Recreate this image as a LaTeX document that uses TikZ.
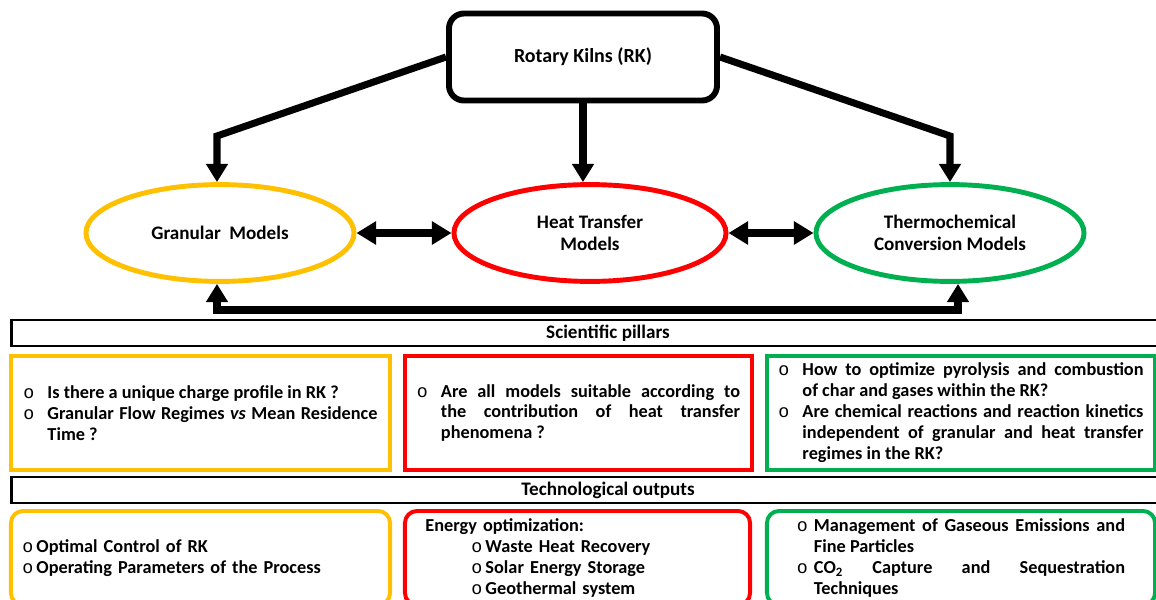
\documentclass[tikz,border=0pt]{standalone}
\usepackage{xcolor}
\usepackage{fontspec}
\setmainfont{Carlito}
\newfontfamily\bulfont{Liberation Mono}
\usepackage{tikz}
\usetikzlibrary{shapes.geometric,arrows.meta}
\definecolor{kilnorange}{HTML}{FFC000}
\definecolor{kilnred}{HTML}{FF0000}
\definecolor{kilngreen}{HTML}{00B050}
\newcommand{\itm}[1]{\noindent\hangindent=0.6cm\hangafter=1\makebox[0.6cm][l]{\bulfont\mdseries o}#1\par}
\newcommand{\titm}[1]{\noindent\hangindent=0.425cm\hangafter=1\makebox[0.425cm][l]{\bulfont\mdseries o}#1\par}
\newcommand{\tbul}{{\bulfont\mdseries o}\,}

\begin{document}
\begin{tikzpicture}[x=0.025cm, y=-0.025cm, font=\fontsize{13}{14.9}\selectfont\bfseries,
  main/.style = {draw, ellipse, line width=3.5pt, minimum width=6.7cm, minimum height=2.42cm, align=center, font=\fontsize{13.6}{15.5}\selectfont\bfseries},
  bar/.style = {draw, line width=2pt, minimum width=29.8cm, minimum height=0.65cm, inner sep=0pt, font=\fontsize{13.6}{15.5}\selectfont\bfseries},
  pillar/.style = {draw, line width=2.8pt, minimum height=2.85cm, align=justify},
  output/.style = {draw, line width=2.8pt, rounded corners=0.3cm, minimum height=2.35cm},
  arr/.style = {line width=5pt, -{Triangle[width=15pt,length=13pt]}},
  darr/.style = {line width=5pt, {Triangle[width=16pt,length=14pt]}-{Triangle[width=16pt,length=14pt]}}]
\clip (0,0) rectangle (1156,599);
\node[draw, line width=4.2pt, rounded corners=0.375cm, minimum width=6.7cm, minimum height=2.175cm, font=\fontsize{14.2}{17}\selectfont\bfseries] (1) at (583,57) {Rotary Kilns (RK)};
\node[main, draw=kilnorange] (2) at (220,233) {Granular\ \ Models};
\node[main, draw=kilnred, minimum width=6.8cm] (3) at (590,233) {Heat Transfer\\Models};
\node[main, draw=kilngreen] (4) at (950,233) {Thermochemical\\Conversion Models};
\node[bar] (5) at (608,333) {Scientific pillars};
\node[pillar, draw=kilnorange, minimum width=9.475cm, text width=8.85cm] (6) at (200.5,413) {%
\itm{Is there a unique charge profile in RK ?}
\itm{Granular Flow Regimes \textit{vs} Mean Residence\linebreak Time ?}};
\node[pillar, draw=kilnred, minimum width=8.675cm, text width=8.075cm] (7) at (578.5,413) {%
\itm{Are all models suitable according to\linebreak the contribution of heat transfer\linebreak phenomena ?}};
\node[pillar, draw=kilngreen, minimum width=9.7cm, text width=9.125cm] (8) at (961,413) {%
\itm{How to optimize pyrolysis and combustion\linebreak of char and gases within the RK?}
\itm{Are chemical reactions and reaction kinetics\linebreak independent of granular and heat transfer\linebreak regimes in the RK?}};
\node[bar] (9) at (608,490) {Technological outputs};
\node[output, draw=kilnorange, minimum width=9.475cm, text width=8.9cm, align=left] (10) at (200.5,558) {%
\tbul Optimal Control of RK\\
\tbul Operating Parameters of the Process};
\node[output, draw=kilnred, minimum width=8.625cm, text width=7.6cm, align=left] (11) at (577.5,558) {%
Energy optimization:\\
\hspace*{1.15cm}\tbul Waste Heat Recovery\\
\hspace*{1.15cm}\tbul Solar Energy Storage\\
\hspace*{1.15cm}\tbul Geothermal system};
\node[output, draw=kilngreen, minimum width=9.7cm, text width=8.2cm, align=justify] (12) at (961,558) {%
\titm{Management of Gaseous Emissions and\linebreak Fine Particles}
\titm{CO\textsubscript{2} Capture and Sequestration\linebreak Techniques}
\vspace*{4pt}};
\coordinate (a) at (217,136);
\coordinate (b) at (950,136);
\coordinate (c) at (958,310);
\draw[arr] (1.west) -- (a) -- (a |- 2.north);
\draw[arr] (1.south) -- (1.south |- 3.north);
\draw[arr] (1.east) -- (b) -- (b |- 4.north);
\draw[darr] (2.east) -- (3.west);
\draw[darr] (3.east) -- (4.west);
\draw[line width=5pt, {Triangle[width=15pt,length=13pt]}-{Triangle[width=15pt,length=13pt]}] (a |- 2.south) |- (c) -- (c |- 4.south);
\end{tikzpicture}
\end{document}
